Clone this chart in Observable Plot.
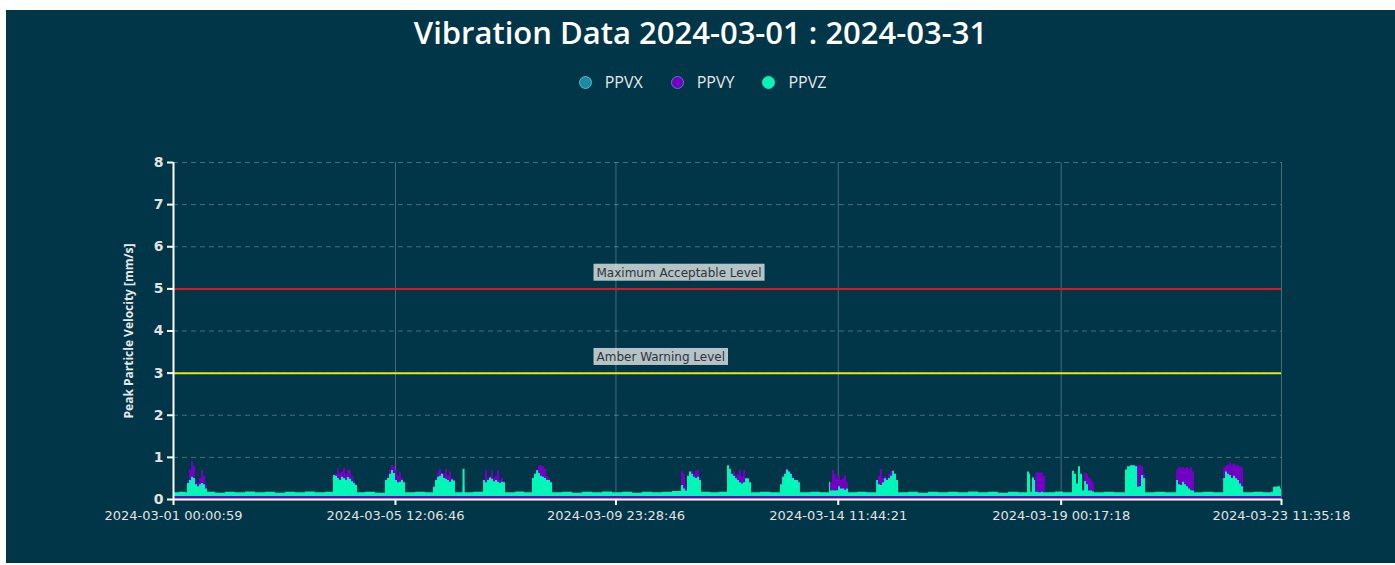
<!DOCTYPE html>
<html>
<head>
<meta charset="utf-8">
<script src="https://cdn.jsdelivr.net/npm/d3@7"></script>
<script src="https://cdn.jsdelivr.net/npm/@observablehq/plot@0.6"></script>
<style>
  html, body { margin: 0; padding: 0; background: #ffffff; width: 1395px; height: 565px; overflow: hidden; }
  #panel { position: absolute; left: 6px; top: 10px; width: 1389px; height: 553px; background: #003648; font-family: "Open Sans", sans-serif; }
  #title { position: absolute; left: 0; width: 100%; top: 1px; text-align: center; color: #ffffff; font-size: 31px; font-weight: 600; }
  #legend { position: absolute; left: 0; width: 100%; top: 61px; display: flex; justify-content: center; align-items: center; gap: 28px; color: #e8e8e8; font-size: 16px; padding-left: 4px; box-sizing: border-box; }
  .item { display: flex; align-items: center; gap: 13px; }
  .dot { width: 13px; height: 13px; border-radius: 50%; box-sizing: border-box; }
  #chart { position: absolute; left: 0; top: 110px; }
</style>
</head>
<body>
<div id="panel">
  <div id="title">Vibration Data 2024-03-01 : 2024-03-31</div>
  <div id="legend"></div>
  <div id="chart"></div>
</div>
<script>
// ---- data (hours since first reading, 2024-03-01 00:00:59) ----
const startTime = "2024-03-01T00:00:59Z";
const endTime = "2024-03-23T11:35:18Z";
const hours = [0.0,2.9,5.8,6.8,7.8,8.8,9.7,10.7,11.7,12.7,13.6,14.6,15.6,16.6,20.5,25.3,30.2,35.1,39.9,44.8,49.7,54.5,59.4,64.3,69.2,74.0,
77.9,78.9,79.9,80.8,81.8,82.8,83.8,84.7,85.7,86.7,87.7,88.6,89.6,93.5,98.4,
103.2,104.2,105.2,106.2,107.1,108.1,109.1,110.1,111.0,112.0,113.0,117.9,122.7,
126.6,127.6,128.6,129.5,130.5,131.5,132.5,133.4,134.4,135.4,136.4,137.3,140.7,141.0,142.0,146.1,
151.0,151.9,152.9,153.9,154.9,155.8,156.8,157.8,158.8,159.7,160.7,161.7,166.6,170.9,
174.8,175.8,176.8,177.8,178.7,179.7,180.7,181.7,182.6,183.6,184.6,189.4,194.3,199.2,204.1,208.9,213.8,218.7,223.5,228.4,233.3,238.1,243.0,
247.4,248.4,249.3,250.3,251.3,252.3,253.2,254.2,255.2,256.2,257.1,261.5,265.9,
269.8,270.8,271.7,272.7,273.7,274.7,275.6,276.6,277.6,278.6,279.5,280.5,281.5,285.9,290.7,
295.6,296.6,297.6,298.5,299.5,300.5,301.4,302.4,303.4,304.4,305.3,310.2,315.1,
319.5,320.0,320.9,321.9,322.9,323.9,324.8,325.8,326.8,327.8,328.7,333.1,337.5,
342.4,343.3,344.3,345.3,346.3,347.2,348.2,349.2,350.2,351.1,352.1,353.1,357.9,362.8,367.7,372.5,377.4,382.3,387.2,392.0,396.9,401.8,406.6,411.5,
415.9,416.9,417.4,418.3,419.3,419.8,421.3,422.7,423.7,424.7,429.5,433.4,
437.8,438.8,439.8,440.7,441.7,442.7,443.7,444.6,445.6,446.6,447.6,448.5,453.4,458.3,
463.6,464.6,466.1,467.5,468.5,469.5,470.4,471.4,472.4,473.4,478.2,483.1,
488.5,489.4,490.4,491.4,492.4,493.3,494.3,495.3,496.2,497.2,501.6,506.5,
511.4,512.3,513.3,514.3,515.2,516.2,517.2,518.2,519.1,520.1,521.1,526.0,530.8,534.7,535.7,537.6,539.1,539.6];
const ppvy = [0.08,0.08,0.08,0.45,0.7,0.89,0.8,0.45,0.38,0.5,0.69,0.55,0.35,0.08,0.08,0.08,0.08,0.08,0.08,0.08,0.08,0.08,0.08,0.08,0.08,0.08,
0.57,0.6,0.73,0.62,0.65,0.73,0.6,0.7,0.69,0.55,0.45,0.35,0.08,0.08,0.08,
0.45,0.55,0.7,0.81,0.78,0.7,0.55,0.65,0.5,0.4,0.08,0.08,0.08,
0.3,0.5,0.65,0.72,0.62,0.6,0.72,0.55,0.65,0.5,0.46,0.08,0.08,0.1,0.08,0.08,
0.45,0.68,0.5,0.55,0.68,0.5,0.55,0.68,0.45,0.5,0.42,0.08,0.08,0.08,
0.5,0.62,0.7,0.8,0.8,0.78,0.72,0.55,0.5,0.42,0.08,0.08,0.08,0.08,0.08,0.08,0.08,0.08,0.08,0.08,0.08,0.08,0.08,
0.67,0.6,0.3,0.55,0.65,0.67,0.6,0.67,0.7,0.5,0.08,0.08,0.08,
0.8,0.72,0.6,0.65,0.55,0.6,0.69,0.55,0.69,0.5,0.49,0.4,0.08,0.08,0.08,
0.35,0.55,0.65,0.72,0.68,0.6,0.55,0.48,0.45,0.4,0.08,0.08,0.08,
0.2,0.4,0.69,0.6,0.5,0.57,0.45,0.5,0.57,0.4,0.08,0.08,0.08,
0.45,0.55,0.72,0.5,0.55,0.5,0.6,0.67,0.67,0.6,0.45,0.08,0.08,0.08,0.08,0.08,0.08,0.08,0.08,0.08,0.08,0.08,0.08,0.08,
0.2,0.2,0.08,0.1,0.2,0.63,0.63,0.63,0.55,0.08,0.08,0.08,
0.1,0.1,0.1,0.1,0.1,0.2,0.63,0.6,0.5,0.46,0.4,0.08,0.08,0.08,
0.7,0.78,0.8,0.8,0.8,0.8,0.8,0.78,0.6,0.08,0.08,0.08,
0.7,0.76,0.74,0.76,0.73,0.76,0.72,0.76,0.65,0.08,0.08,0.08,
0.75,0.8,0.82,0.87,0.82,0.84,0.8,0.8,0.78,0.75,0.08,0.08,0.08,0.08,0.1,0.1,0.1,0.1];
const ppvz = [0.16,0.17,0.16,0.38,0.45,0.53,0.5,0.35,0.3,0.35,0.38,0.35,0.25,0.17,0.15,0.17,0.16,0.18,0.16,0.17,0.15,0.17,0.16,0.18,0.16,0.17,
0.57,0.55,0.5,0.45,0.53,0.5,0.45,0.52,0.48,0.42,0.38,0.33,0.16,0.17,0.15,
0.45,0.5,0.6,0.69,0.62,0.45,0.4,0.41,0.45,0.4,0.16,0.17,0.16,
0.29,0.45,0.53,0.55,0.6,0.5,0.48,0.45,0.41,0.46,0.44,0.16,0.17,0.72,0.16,0.17,
0.45,0.4,0.45,0.51,0.48,0.42,0.45,0.41,0.38,0.41,0.4,0.16,0.18,0.16,
0.5,0.6,0.68,0.62,0.55,0.53,0.5,0.45,0.45,0.4,0.16,0.17,0.15,0.17,0.16,0.18,0.16,0.17,0.15,0.17,0.16,0.17,0.19,
0.33,0.25,0.2,0.55,0.65,0.6,0.53,0.5,0.53,0.45,0.17,0.16,0.17,
0.8,0.72,0.6,0.55,0.49,0.45,0.4,0.37,0.4,0.49,0.49,0.4,0.16,0.17,0.16,
0.35,0.53,0.6,0.7,0.65,0.6,0.5,0.45,0.45,0.4,0.16,0.17,0.16,
0.41,0.2,0.21,0.2,0.21,0.3,0.25,0.25,0.22,0.25,0.16,0.17,0.16,
0.45,0.35,0.33,0.4,0.49,0.45,0.5,0.55,0.67,0.6,0.45,0.16,0.17,0.15,0.17,0.16,0.17,0.16,0.18,0.16,0.17,0.15,0.17,0.16,
0.65,0.6,0.17,0.51,0.45,0.17,0.16,0.17,0.16,0.16,0.18,0.16,
0.67,0.6,0.37,0.78,0.6,0.2,0.43,0.35,0.2,0.2,0.18,0.16,0.17,0.16,
0.7,0.78,0.8,0.8,0.78,0.29,0.3,0.57,0.5,0.16,0.17,0.16,
0.45,0.35,0.33,0.41,0.35,0.3,0.25,0.21,0.2,0.16,0.17,0.16,
0.5,0.65,0.6,0.57,0.5,0.55,0.49,0.45,0.37,0.3,0.16,0.17,0.16,0.17,0.29,0.3,0.25,0.2];
const ppvx = [0.1,0.1,0.1,0.25,0.3,0.35,0.3,0.25,0.2,0.25,0.3,0.25,0.15,0.1,0.1,0.1,0.1,0.1,0.1,0.1,0.1,0.1,0.1,0.1,0.1,0.1,
0.35,0.35,0.35,0.3,0.35,0.35,0.3,0.35,0.3,0.3,0.25,0.2,0.1,0.1,0.1,
0.3,0.3,0.35,0.4,0.4,0.3,0.3,0.3,0.3,0.25,0.1,0.1,0.1,
0.2,0.3,0.35,0.35,0.35,0.3,0.3,0.3,0.3,0.3,0.3,0.1,0.1,0.3,0.1,0.1,
0.3,0.3,0.3,0.35,0.3,0.3,0.3,0.3,0.25,0.3,0.25,0.1,0.1,0.1,
0.3,0.35,0.4,0.4,0.35,0.35,0.35,0.3,0.3,0.25,0.1,0.1,0.1,0.1,0.1,0.1,0.1,0.1,0.1,0.1,0.1,0.1,0.1,
0.25,0.2,0.15,0.35,0.4,0.35,0.35,0.3,0.35,0.3,0.1,0.1,0.1,
0.45,0.4,0.35,0.35,0.3,0.3,0.3,0.25,0.3,0.3,0.3,0.25,0.1,0.1,0.1,
0.25,0.35,0.35,0.4,0.4,0.35,0.3,0.3,0.3,0.25,0.1,0.1,0.1,
0.25,0.15,0.15,0.15,0.15,0.2,0.15,0.15,0.15,0.15,0.1,0.1,0.1,
0.3,0.25,0.25,0.25,0.3,0.3,0.3,0.35,0.4,0.35,0.3,0.1,0.1,0.1,0.1,0.1,0.1,0.1,0.1,0.1,0.1,0.1,0.1,0.1,
0.3,0.3,0.1,0.25,0.25,0.1,0.1,0.1,0.1,0.1,0.1,0.1,
0.3,0.3,0.2,0.35,0.3,0.15,0.25,0.2,0.15,0.15,0.15,0.1,0.1,0.1,
0.4,0.45,0.45,0.45,0.45,0.2,0.2,0.35,0.3,0.1,0.1,0.1,
0.3,0.25,0.25,0.25,0.25,0.2,0.2,0.15,0.15,0.1,0.1,0.1,
0.3,0.4,0.35,0.35,0.3,0.35,0.3,0.3,0.25,0.2,0.1,0.1,0.1,0.1,0.2,0.2,0.15,0.15];
// lower edge of each trace's band
const floorX = 0.02, floorY = 0.02, floorZ = 0.07;

const seriesNames = ["PPVX", "PPVY", "PPVZ"];
const seriesColors = ["#1a8ca0", "#7400c4", "#00f7b5"];
const seriesBorders = ["#55b8cc", "#4d86c8", "#00f7b5"];

const xTickLabels = ["2024-03-01 00:00:59", "2024-03-05 12:06:46", "2024-03-09 23:28:46", "2024-03-14 11:44:21", "2024-03-19 00:17:18", "2024-03-23 11:35:18"];
const yTicks = [0, 1, 2, 3, 4, 5, 6, 7, 8];

const levelLabels = ["Maximum Acceptable Level", "Amber Warning Level"];
const levelValues = [5, 3];
const levelColors = ["#e3141c", "#e6e619"];
const levelLabelHour = 206;

// ---- build ----
const t0 = new Date(startTime).getTime();
const toDate = h => new Date(t0 + h * 3600000);
const data = hours.map((h, i) => ({t: toDate(h), x: ppvx[i], y: ppvy[i], z: ppvz[i]}));
const xTicks = xTickLabels.map(s => new Date(s.replace(" ", "T") + "Z"));
const fmt = d3.utcFormat("%Y-%m-%d %H:%M:%S");
const levels = levelValues.map((v, i) => ({value: v, label: levelLabels[i], color: levelColors[i], t: toDate(levelLabelHour)}));

// legend
const legend = document.getElementById("legend");
seriesNames.forEach((n, i) => {
  const it = document.createElement("div");
  it.className = "item";
  const dot = document.createElement("span");
  dot.className = "dot";
  dot.style.background = seriesColors[i];
  dot.style.border = `1.5px solid ${seriesBorders[i]}`;
  const lab = document.createElement("span");
  lab.textContent = n;
  it.append(dot, lab);
  legend.append(it);
});

const chart = Plot.plot({
  width: 1389,
  height: 443,
  marginTop: 42,
  marginBottom: 64,
  marginLeft: 167,
  marginRight: 114,
  style: {background: "transparent", color: "#e2e2e2", fontFamily: "DejaVu Sans, sans-serif", fontSize: "13px"},
  x: {type: "utc", domain: [new Date(startTime), new Date(endTime)]},
  y: {domain: [0, 8]},
  marks: [
    Plot.ruleY(yTicks.slice(1), {stroke: "#ffffff", strokeOpacity: 0.28, strokeDasharray: "5,4"}),
    Plot.ruleX(xTicks.slice(1), {stroke: "#ffffff", strokeOpacity: 0.27}),
    Plot.areaY(data, {x: "t", y1: floorX, y2: "x", fill: seriesColors[0], curve: "step-after"}),
    Plot.areaY(data, {x: "t", y1: floorY, y2: "y", fill: seriesColors[1], curve: "step-after"}),
    Plot.areaY(data, {x: "t", y1: floorZ, y2: "z", fill: seriesColors[2], curve: "step-after"}),
    Plot.ruleY(levels, {y: "value", stroke: "color", strokeWidth: 2}),
    Plot.text(levels, {x: "t", y: "value", text: "label", textAnchor: "start", dy: -16, fill: "#333333", fontSize: 12}),
    Plot.ruleX([new Date(startTime)], {stroke: "#ffffff", strokeWidth: 2}),
    Plot.ruleY([0], {stroke: "#ffffff", strokeWidth: 2}),
    Plot.axisX({ticks: xTicks, tickFormat: fmt, tickSize: 6, tickPadding: 5, stroke: "#ffffff", strokeWidth: 2, label: null, fontSize: 13, fontWeight: 400}),
    Plot.axisY({ticks: yTicks, tickSize: 6, tickPadding: 4, stroke: "#ffffff", strokeWidth: 2, label: null, fontSize: 14, fontWeight: 600}),
    Plot.text(["Peak Particle Velocity [mm/s]"], {frameAnchor: "left", textAnchor: "middle", rotate: -90, dx: -44, fontWeight: 700, fontSize: 12, fontFamily: "Open Sans, sans-serif", fill: "#e8e8e8"})
  ]
});
document.getElementById("chart").append(chart);

// label backgrounds
chart.querySelectorAll("text").forEach(t => {
  if (levelLabels.includes(t.textContent)) {
    const b = t.getBBox();
    const r = document.createElementNS("http://www.w3.org/2000/svg", "rect");
    r.setAttribute("x", b.x - 3);
    r.setAttribute("y", b.y - 2);
    r.setAttribute("width", b.width + 6);
    r.setAttribute("height", b.height + 3);
    r.setAttribute("fill", "#ffffff");
    r.setAttribute("fill-opacity", 0.7);
    if (t.getAttribute("transform")) r.setAttribute("transform", t.getAttribute("transform"));
    t.parentNode.insertBefore(r, t);
  }
});
</script>
</body>
</html>
